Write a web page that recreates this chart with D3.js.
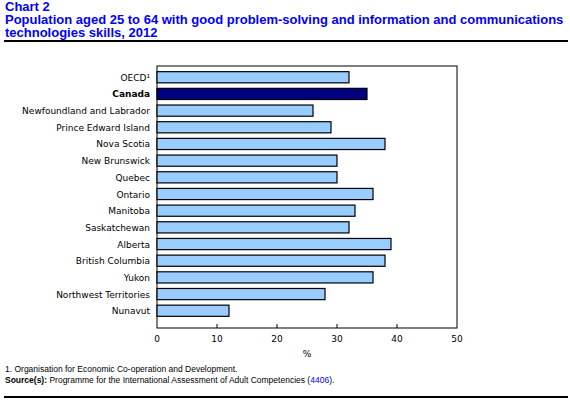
<!DOCTYPE html>
<html><head><meta charset="utf-8">
<script src="https://cdn.jsdelivr.net/npm/d3@7"></script>
<style>body{margin:0;background:#fff;font-family:Verdana,"DejaVu Sans",sans-serif}</style>
</head><body><div id="graph"></div>
<script>
var w = 570, h = 401;
var categories = ["OECD¹","Canada","Newfoundland and Labrador","Prince Edward Island","Nova Scotia","New Brunswick","Quebec","Ontario","Manitoba","Saskatchewan","Alberta","British Columbia","Yukon","Northwest Territories","Nunavut"];
var values = [32,35,26,29,38,30,30,36,33,32,39,38,36,28,12];
var ticks = [0,10,20,30,40,50];

var pLeft = 157, pRight = 457, pTop = 66, pBottom = 328;
var x = d3.scaleLinear().domain([0,50]).range([pLeft,pRight]);
var y = d3.scaleBand().domain(categories).range([70,318]).paddingInner(0.33).paddingOuter(0.1);

var svg = d3.select("#graph").append("svg").attr("width",w).attr("height",h);

var title = svg.append("g").attr("fill","#0000ff").attr("font-family","Arial,'Liberation Sans',sans-serif").attr("font-weight","bold").attr("font-size","13px");
title.append("text").attr("x",5).attr("y",11).text("Chart 2");
title.append("text").attr("x",5).attr("y",24).text("Population aged 25 to 64 with good problem-solving and information and communications");
title.append("text").attr("x",5).attr("y",37).text("technologies skills, 2012");
svg.append("rect").attr("x",4).attr("y",40).attr("width",564).attr("height",2).attr("fill","#000");

svg.append("rect").attr("x",pLeft).attr("y",pTop).attr("width",pRight-pLeft).attr("height",pBottom-pTop).attr("fill","none").attr("stroke","#000").attr("stroke-width",1);

svg.selectAll("rect.bar").data(values).enter().append("rect").attr("class","bar")
  .attr("x",x(0)).attr("y",function(d,i){return y(categories[i]);})
  .attr("width",function(d){return x(d)-x(0);}).attr("height",y.bandwidth())
  .attr("fill",function(d,i){return i==1?"#000080":"#99ccff";})
  .attr("stroke","#000").attr("stroke-width",1.2);

svg.selectAll("text.cat").data(categories).enter().append("text").attr("class","cat")
  .attr("x",pLeft-7).attr("y",function(d){return y(d)+y.bandwidth()/2+3.5;})
  .attr("text-anchor","end").attr("font-size","9px")
  .attr("font-weight",function(d,i){return i==1?"bold":"normal";}).text(function(d){return d;});

svg.selectAll("line.tick").data(ticks.slice(1,5)).enter().append("line")
  .attr("x1",function(d){return x(d);}).attr("x2",function(d){return x(d);})
  .attr("y1",pBottom).attr("y2",pBottom-4).attr("stroke","#000");
svg.selectAll("text.tl").data(ticks).enter().append("text").attr("class","tl")
  .attr("x",function(d){return x(d);}).attr("y",342).attr("text-anchor","middle").attr("font-size","9px").text(function(d){return d;});
svg.append("text").attr("x",x(25)).attr("y",357).attr("text-anchor","middle").attr("font-size","9px").text("%");

var foot = svg.append("g").attr("font-family","Arial,'Liberation Sans',sans-serif").attr("font-size","8.5px");
foot.append("text").attr("x",5).attr("y",372).text("1. Organisation for Economic Co-operation and Development.");
var s = foot.append("text").attr("x",5).attr("y",383);
s.append("tspan").attr("font-weight","bold").text("Source(s):");
s.append("tspan").text(" Programme for the International Assessment of Adult Competencies (");
s.append("tspan").attr("fill","#0000ff").text("4406");
s.append("tspan").text(").");
svg.append("rect").attr("x",4).attr("y",396).attr("width",564).attr("height",2).attr("fill","#000");
</script></body></html>
